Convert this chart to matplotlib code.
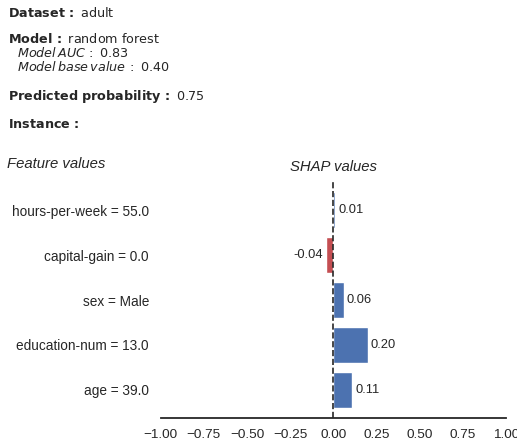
import numpy as np
import matplotlib
matplotlib.use("Agg")
import matplotlib.pyplot as plt

# chart data
features = ["age = 39.0", "education-num = 13.0", "sex = Male",
            "capital-gain = 0.0", "hours-per-week = 55.0"]
shap_values = [0.11, 0.20, 0.06, -0.04, 0.01]
x_ticks = [-1.00, -0.75, -0.50, -0.25, 0.00, 0.25, 0.50, 0.75, 1.00]

dataset_name = "adult"
model_name = "random forest"
model_auc = 0.83
base_value = 0.40
pred_proba = 0.75

text_color = "#262626"
blue = "#4C72B0"
red = "#C44E52"
sans = ["Liberation Sans", "DejaVu Sans"]

fig = plt.figure(figsize=(5.17, 4.43), dpi=100)

# header block (mathtext, DejaVu)
hdr = dict(fontsize=9.2, color=text_color, ha="left", va="baseline")
fig.text(8 / 517, 1 - 16.7 / 443, r"$\bf{Dataset\,:}$ " + dataset_name, **hdr)
fig.text(8 / 517, 1 - 43.3 / 443, r"$\bf{Model\,:}$ " + model_name, **hdr)
fig.text(17 / 517, 1 - 56.7 / 443, r"$\mathit{Model\,AUC}\,:$ " + "%.2f" % model_auc, **hdr)
fig.text(17 / 517, 1 - 71 / 443, r"$\mathit{Model\,base\,value}\,:$ " + "%.2f" % base_value, **hdr)
fig.text(8 / 517, 1 - 100 / 443, r"$\bf{Predicted\ probability\,:}$ " + "%.2f" % pred_proba, **hdr)
fig.text(8 / 517, 1 - 128.3 / 443, r"$\bf{Instance\,:}$", **hdr)

fig.text(7.3 / 517, 1 - 168.3 / 443, "Feature values", fontsize=10.7, style="italic",
         family=sans, color=text_color, ha="left", va="baseline")
fig.text(333 / 517, 1 - 170.7 / 443, "SHAP values", fontsize=10.7, style="italic",
         family=sans, color=text_color, ha="center", va="baseline")

ax = fig.add_axes([160.7 / 517, 1 - 418.3 / 443, 345.3 / 517, 236.6 / 443])

ypos = np.arange(len(features))
colors = [blue if v >= 0 else red for v in shap_values]
ax.barh(ypos, shap_values, height=0.8, color=colors, edgecolor="white", linewidth=1)
ax.axvline(0, color=text_color, linestyle="--", linewidth=1.2)

for y, v in zip(ypos, shap_values):
    if v >= 0:
        ax.text(v + 0.018, y, "%.2f" % v, ha="left", va="center", fontsize=9.3,
                family=sans, color=text_color)
    else:
        ax.text(v - 0.018, y, "%.2f" % v, ha="right", va="center", fontsize=9.3,
                family=sans, color=text_color)

ax.set_xlim(-1, 1)
ax.set_ylim(-0.64, 4.64)
ax.set_xticks(x_ticks)
ax.set_xticklabels(["%.2f" % t if t >= 0 else "\u2212%.2f" % abs(t) for t in x_ticks],
                   family=sans, fontsize=9.7, color=text_color)
ax.set_yticks(ypos)
ax.set_yticklabels(features, family=sans, fontsize=9.8, color=text_color)
ax.tick_params(axis="both", length=0)
ax.tick_params(axis="y", pad=8.5)
ax.tick_params(axis="x", pad=8)

for s in ["top", "right", "left"]:
    ax.spines[s].set_visible(False)
ax.spines["bottom"].set_color(text_color)
ax.spines["bottom"].set_linewidth(1.3)

fig.savefig("out.png", dpi=100)
